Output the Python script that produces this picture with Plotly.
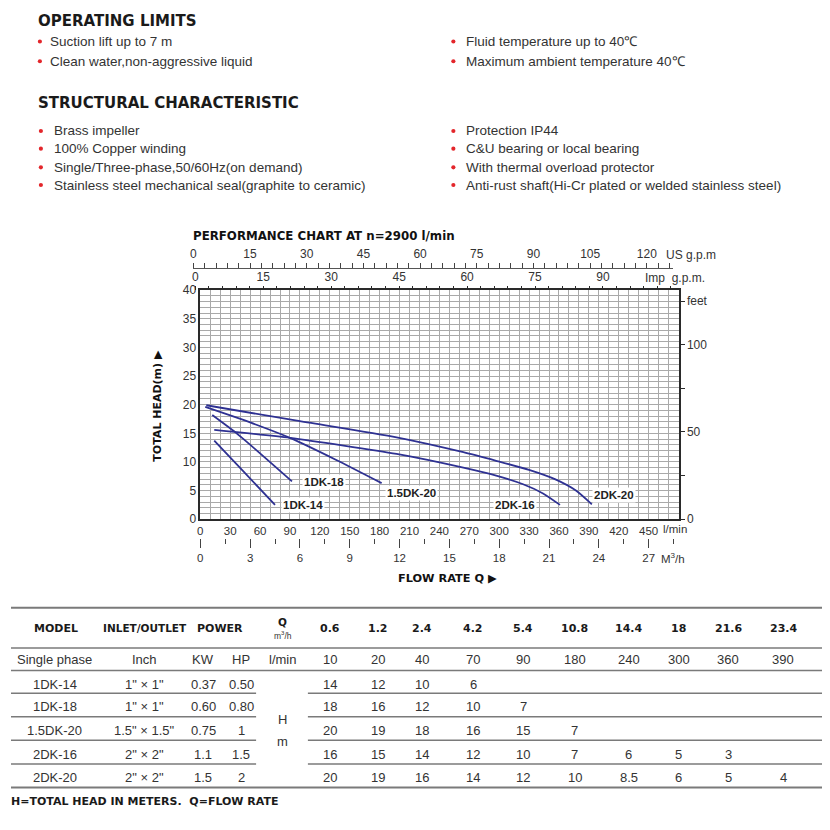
import plotly.graph_objects as go

OFF = 8          # browser body margin around the figure
W = H = 830 - 2 * OFF   # figure + margins exactly fill the 830 px window

# ---------------- data ----------------
limits_left = ["Suction lift up to 7 m", "Clean water,non-aggressive liquid"]
limits_right = ["Fluid temperature up to 40℃", "Maximum ambient temperature 40℃"]
struct_left = ["Brass impeller", "100% Copper winding",
               "Single/Three-phase,50/60Hz(on demand)",
               "Stainless steel mechanical seal(graphite to ceramic)"]
struct_right = ["Protection IP44", "C&U bearing or local bearing",
                "With thermal overload protector",
                "Anti-rust shaft(Hi-Cr plated or welded stainless steel)"]

# performance curves (flow in l/min, head in m)
curve_names = ["1DK-14", "1DK-18", "1.5DK-20", "2DK-16", "2DK-20"]
flow_1dk14 = [14, 44, 75]
head_1dk14 = [13.7, 8.2, 2.5]
flow_1dk18 = [12, 35, 60, 92]
head_1dk18 = [18.2, 15.2, 11.5, 6.6]
flow_15dk20 = [5, 50, 90, 137, 182]
head_15dk20 = [19.6, 16.9, 14.2, 10.3, 6.3]
flow_2dk16 = [14, 90, 197, 264, 297, 324, 344, 361]
head_2dk16 = [15.6, 14.2, 11.4, 9.0, 7.6, 6.1, 4.5, 2.5]
flow_2dk20 = [6, 97, 197, 264, 297, 330, 357, 377, 393]
head_2dk20 = [19.9, 17.2, 14.3, 11.7, 10.2, 8.6, 6.9, 5.0, 2.6]

# axis tick values
lmin_ticks = list(range(0, 481, 10))
lmin_labels = list(range(0, 451, 30))
head_ticks = list(range(0, 41, 1))
head_labels = list(range(0, 41, 5))
feet_ticks = [0, 25, 50, 75, 100, 125]
feet_text = ["0", "", "50", "", "100", "feet"]
us_ticks = list(range(0, 127, 3))
us_labels = list(range(0, 121, 15))
imp_ticks = list(range(0, 106, 3))
imp_labels = list(range(0, 91, 15))
m3h_major = [0, 3, 6, 9, 12, 15, 18, 21, 24, 27]
m3h_minor = [1.5, 4.5, 7.5, 10.5, 13.5, 16.5, 19.5, 22.5, 25.5, 28.5]

# table
models = ["1DK-14", "1DK-18", "1.5DK-20", "2DK-16", "2DK-20"]
inlet = ['1" × 1"', '1" × 1"', '1.5" × 1.5"', '2" × 2"', '2" × 2"']
kw = ["0.37", "0.60", "0.75", "1.1", "1.5"]
hp = ["0.50", "0.80", "1", "1.5", "2"]
q_m3h = ["0.6", "1.2", "2.4", "4.2", "5.4", "10.8", "14.4", "18", "21.6", "23.4"]
q_lmin = ["10", "20", "40", "70", "90", "180", "240", "300", "360", "390"]
head_table = [
    ["14", "12", "10", "6"],
    ["18", "16", "12", "10", "7"],
    ["20", "19", "18", "16", "15", "7"],
    ["16", "15", "14", "12", "10", "7", "6", "5", "3"],
    ["20", "19", "16", "14", "12", "10", "8.5", "6", "5", "4"],
]

# ---------------- helpers (screen px -> paper coords) ----------------
def PX(x):
    return (x - OFF) / W

def PY(y):
    return 1 - (y - OFF) / H

BODY = "Liberation Sans, Arial, sans-serif"
HEAD = "DejaVu Sans, Verdana, sans-serif"
TXT = "#333333"
CURVE = "#2e3192"
GRID = "#a9a9a9"
FRAME = "#2a2a2a"

annotations = []
shapes = []

def text(x, y, s, size=13, family=BODY, color=TXT, anchor="left", bold=False, **kw):
    if bold:
        s = "<b>" + s + "</b>"
    annotations.append(dict(x=PX(x), y=PY(y), xref="paper", yref="paper", text=s,
                            showarrow=False, xanchor=anchor, yanchor="middle",
                            font=dict(size=size, family=family, color=color), **kw))

def bullet(x, y):
    r = 2.1
    shapes.append(dict(type="circle", xref="paper", yref="paper",
                       x0=PX(x - r), x1=PX(x + r), y0=PY(y + r), y1=PY(y - r),
                       fillcolor="#e3262b", line=dict(width=0)))

def hline(x0, x1, y, width=1.5, color="#7a7a7a"):
    shapes.append(dict(type="line", xref="paper", yref="paper",
                       x0=PX(x0), x1=PX(x1), y0=PY(y), y1=PY(y),
                       line=dict(color=color, width=width)))

# ---------------- header text ----------------
text(33, 14, "OPERATING LIMITS", size=15, family=HEAD, color="#1a1a1a", bold=True)
for i, s in enumerate(limits_left):
    y = 35 + 20 * i
    bullet(37, y)
    text(45, y, s, size=13.5)
for i, s in enumerate(limits_right):
    y = 35 + 20 * i
    bullet(452, y)
    text(463, y, s, size=13.5)

text(33, 98, "STRUCTURAL CHARACTERISTIC", size=15, family=HEAD, color="#1a1a1a", bold=True)
struct_y = [126, 144, 163, 181]
for s, y in zip(struct_left, struct_y):
    bullet(38, y)
    text(49, y, s, size=13.5)
for s, y in zip(struct_right, struct_y):
    bullet(452, y)
    text(463, y, s, size=13.5)

# ---------------- chart texts ----------------
text(189, 233, "PERFORMANCE CHART AT n=2900 l/min", size=11.8, family=HEAD,
     color="#111", bold=True)
text(663, 252, "US g.p.m", size=12, color=TXT)
text(642, 276, "Imp  g.p.m.", size=12, color=TXT)
text(660, 531, "l/min", size=11.5, color=TXT)
text(658, 561, "M<sup>3</sup>/h", size=11.5, color=TXT)
text(446, 581, "FLOW RATE Q ▶", size=11.3, family=HEAD, color="#111",
     anchor="center", bold=True)
annotations.append(dict(x=PX(155), y=PY(405), xref="paper", yref="paper",
                        text="<b>TOTAL HEAD(m) ▶</b>", textangle=-90, showarrow=False,
                        xanchor="center", yanchor="middle",
                        font=dict(size=11, family=HEAD, color="#111")))

# curve labels (data coordinates)
label_pos = {"1DK-14": (103, 2.4), "1DK-18": (124, 6.5), "1.5DK-20": (212, 4.5),
             "2DK-16": (316, 2.4), "2DK-20": (415, 4.3)}
for name, (lx, ly) in label_pos.items():
    annotations.append(dict(x=lx, y=ly, xref="x", yref="y", text="<b>" + name + "</b>",
                            showarrow=False, bgcolor="white", borderpad=1,
                            font=dict(size=11.5, family=BODY, color="#222")))

# ---------------- table ----------------
col_x_vals = [328, 376, 421, 472, 522, 574, 628, 678, 728, 783]
hline(8, 822, 611, width=2)
hline(8, 822, 652)
hline(8, 822, 675)
for y in [698, 722, 746, 770]:
    hline(8, 254, y)
    hline(306, 822, y)
hline(8, 822, 794, width=2)

TB = "DejaVu Sans, Verdana, sans-serif"
text(53, 632, "MODEL", size=11, family=TB, color="#1a1a1a", anchor="center", bold=True)
text(142, 632, "INLET/OUTLET", size=10.5, family=TB, color="#1a1a1a", anchor="center", bold=True)
text(218, 632, "POWER", size=11, family=TB, color="#1a1a1a", anchor="center", bold=True)
text(281, 626, "Q", size=10.5, family=TB, color="#1a1a1a", anchor="center", bold=True)
text(281, 639, "m<sup>3</sup>/h", size=8.5, family=BODY, color=TXT, anchor="center")
for cx, s in zip(col_x_vals, q_m3h):
    text(cx, 632, s, size=11, family=TB, color="#1a1a1a", anchor="center", bold=True)

text(52, 664, "Single phase", size=13, anchor="center")
text(142, 664, "Inch", size=13, anchor="center")
text(201, 664, "KW", size=13, anchor="center")
text(239, 664, "HP", size=13, anchor="center")
text(281, 664, "l/min", size=13, anchor="center")
for cx, s in zip(col_x_vals, q_lmin):
    text(cx, 664, s, size=13, anchor="center")

row_y = [689, 712, 736, 760, 784]
for i, y in enumerate(row_y):
    text(52, y, models[i], size=13, anchor="center")
    text(142, y, inlet[i], size=13, anchor="center")
    text(201, y, kw[i], size=13, anchor="center")
    text(239, y, hp[i], size=13, anchor="center")
    for cx, s in zip(col_x_vals, head_table[i]):
        text(cx, y, s, size=13, anchor="center")
text(281, 725, "H", size=13, anchor="center")
text(281, 747, "m", size=13, anchor="center")

text(6, 808, "H=TOTAL HEAD IN METERS.  Q=FLOW RATE", size=11, family=HEAD,
     color="#1a1a1a", bold=True)

# ---------------- figure ----------------
fig = go.Figure()
# empty traces so that the secondary scales (feet, Imp, US gpm, m3/h) are drawn;
# the x-scales are paired with a hidden y axis so they add no extra grid
for xa, ya in [("x", "y2"), ("x2", "y3"), ("x3", "y3"), ("x4", "y3")]:
    fig.add_trace(go.Scatter(x=[], y=[], mode="lines", showlegend=False,
                             xaxis=xa, yaxis=ya, hoverinfo="skip"))

curves = [(flow_1dk14, head_1dk14), (flow_1dk18, head_1dk18), (flow_15dk20, head_15dk20),
          (flow_2dk16, head_2dk16), (flow_2dk20, head_2dk20)]
for name, (q, h) in zip(curve_names, curves):
    fig.add_trace(go.Scatter(x=q, y=h, mode="lines", name=name, showlegend=False,
                             line=dict(color=CURVE, width=1.8, shape="spline", smoothing=0.6),
                             xaxis="x", yaxis="y", hoverinfo="skip"))

tickfont = dict(size=11.5, family=BODY, color=TXT)
fig.update_layout(
    width=W, height=H, autosize=False,
    margin=dict(l=0, r=0, t=0, b=0, pad=0),
    paper_bgcolor="white", plot_bgcolor="rgba(0,0,0,0)",
    showlegend=False,
    xaxis=dict(domain=[PX(198), PX(678)], range=[0, 480], anchor="y",
               tickmode="array", tickvals=lmin_ticks,
               ticktext=[str(v) if v in lmin_labels else "" for v in lmin_ticks],
               ticks="", showgrid=True, gridcolor=GRID, gridwidth=1,
               showline=True, mirror=True, linecolor=FRAME, linewidth=1.5,
               zeroline=False, tickfont=tickfont, fixedrange=True),
    yaxis=dict(domain=[PY(521), PY(288)], range=[0, 40], anchor="x",
               tickmode="array", tickvals=head_ticks,
               ticktext=[str(v) if v in head_labels else "" for v in head_ticks],
               ticks="", showgrid=True, gridcolor=GRID, gridwidth=1,
               showline=True, mirror=True, linecolor=FRAME, linewidth=1.5,
               zeroline=False, tickfont=dict(size=12, family=BODY, color=TXT),
               fixedrange=True),
    yaxis2=dict(overlaying="y", side="right", anchor="x", range=[0, 40 / 0.3048],
                tickmode="array", tickvals=feet_ticks, ticktext=feet_text,
                ticks="outside", ticklen=5, tickcolor=FRAME, showgrid=False,
                showline=False, zeroline=False,
                tickfont=dict(size=12, family=BODY, color=TXT), fixedrange=True),
    yaxis3=dict(domain=[PY(521), PY(288)], anchor="free", position=0, range=[0, 1],
                visible=False, showgrid=False, zeroline=False, fixedrange=True),
    xaxis2=dict(domain=[PX(193), PX(673)], anchor="free", position=PY(288), side="top",
                range=[0, 480 / 4.54609], tickmode="array", tickvals=imp_ticks,
                ticktext=[str(v) if v in imp_labels else "" for v in imp_ticks],
                ticks="outside", ticklen=4, tickcolor=FRAME, showgrid=False,
                showline=False, zeroline=False,
                tickfont=dict(size=12, family=BODY, color=TXT), fixedrange=True),
    xaxis3=dict(domain=[PX(191), PX(672)], anchor="free", position=PY(265), side="top",
                range=[0, 480 / 3.78541], tickmode="array", tickvals=us_ticks,
                ticktext=[str(v) if v in us_labels else "" for v in us_ticks],
                ticks="outside", ticklen=5, tickcolor="#444", showgrid=False,
                showline=True, linecolor="#555", linewidth=1, zeroline=False,
                tickfont=dict(size=12, family=BODY, color=TXT), fixedrange=True),
    xaxis4=dict(domain=[PX(198), PX(678)], anchor="free", position=PY(540), side="bottom",
                range=[0, 28.8], tickmode="array", tickvals=m3h_major,
                ticktext=[str(v) for v in m3h_major],
                ticks="outside", ticklen=9, tickcolor="#444", tickwidth=1.2,
                minor=dict(tickmode="array", tickvals=m3h_minor, ticks="outside",
                           ticklen=5, tickcolor="#444", tickwidth=1.2, showgrid=False),
                showgrid=False, showline=False, zeroline=False,
                tickfont=tickfont, fixedrange=True),
    annotations=annotations,
    shapes=shapes,
)

fig.write_html("out.html")
